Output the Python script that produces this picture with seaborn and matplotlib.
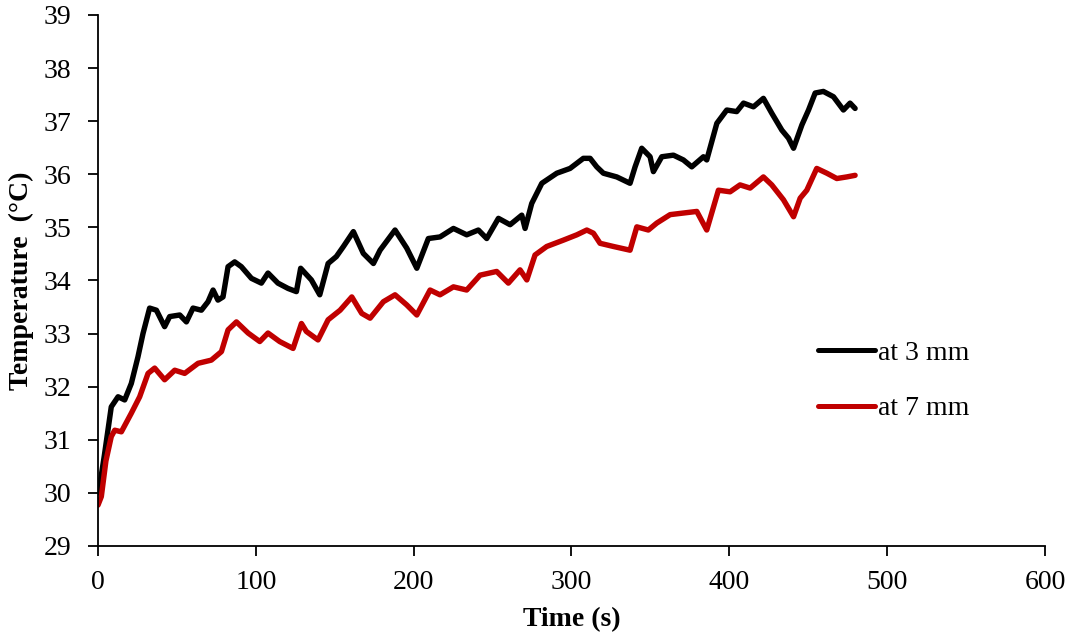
import matplotlib
matplotlib.use("Agg")
import matplotlib.pyplot as plt
import seaborn as sns
import pandas as pd

# ---- data ----
time_3mm = [0, 1, 4, 8.4, 12.7, 16.9, 21.1, 25.3, 28.5, 32.7, 37, 42.2, 45.4, 51.8, 56, 60.2,
            65.5, 69.7, 72.9, 76, 79.2, 82.4, 86.6, 90.8, 97.2, 103.5, 107.7, 114, 120.4,
            125.7, 128.4, 135.2, 140.5, 145.8, 151, 155.5, 161.8, 168.1, 174.5, 178.7, 188.2,
            195.6, 202, 209.3, 216.7, 225.2, 233.6, 241, 246.3, 253.7, 261.1, 268.5, 270.6,
            274.8, 281.2, 290.7, 299.1, 307.5, 311.8, 316, 320.2, 328.7, 337.1, 340.3, 344.5,
            349.8, 351.9, 357.2, 364.6, 370.9, 376.2, 383.6, 385.7, 392.1, 398.4, 404.7, 409,
            415.3, 421.6, 426.9, 433.3, 437.5, 440.7, 446, 450.2, 454.4, 459.6, 466, 472.3,
            476.5, 479.7]
temp_3mm = [30.0, 30.12, 30.7, 31.62, 31.81, 31.75, 32.06, 32.56, 33.0, 33.48, 33.44, 33.13,
            33.32, 33.35, 33.22, 33.48, 33.44, 33.6, 33.82, 33.63, 33.69, 34.26, 34.35, 34.26,
            34.04, 33.95, 34.14, 33.95, 33.85, 33.79, 34.23, 34.01, 33.73, 34.32, 34.45, 34.64,
            34.92, 34.51, 34.32, 34.57, 34.95, 34.61, 34.23, 34.79, 34.82, 34.98, 34.86, 34.95,
            34.79, 35.17, 35.05, 35.23, 34.98, 35.45, 35.83, 36.02, 36.11, 36.3, 36.3, 36.14,
            36.02, 35.95, 35.83, 36.14, 36.49, 36.33, 36.05, 36.33, 36.36, 36.27, 36.14, 36.33,
            36.27, 36.96, 37.21, 37.18, 37.34, 37.27, 37.43, 37.15, 36.83, 36.68, 36.49, 36.93,
            37.21, 37.53, 37.56, 37.46, 37.21, 37.34, 37.24]

time_7mm = [0, 2.1, 5, 8.4, 10.6, 14.8, 21.1, 26.4, 31.7, 35.9, 42.2, 48.6, 54.9, 63.4, 71.8,
            78.2, 82.4, 87.7, 95.1, 102.5, 107.7, 115.1, 123.6, 128.9, 132, 139.4, 145.8,
            153.4, 160.8, 167.1, 172.4, 180.8, 188.2, 195.6, 202, 210.4, 216.7, 225.2, 233.6,
            242.1, 252.6, 260, 267.4, 271.7, 276.9, 284.3, 294.9, 303.4, 309.7, 313.9, 318.1,
            326.6, 337.1, 341.4, 348.7, 354, 362.5, 370.9, 379.4, 385.7, 393.1, 400.5, 406.8,
            413.2, 421.6, 426.9, 434.3, 440.7, 444.9, 449.1, 455.4, 461.8, 468.1, 474.4, 479.7]
temp_7mm = [29.77, 29.93, 30.6, 31.06, 31.18, 31.15, 31.5, 31.81, 32.25, 32.35, 32.13, 32.31,
            32.25, 32.44, 32.5, 32.66, 33.07, 33.22, 33.01, 32.85, 33.01, 32.85, 32.72, 33.19,
            33.04, 32.88, 33.26, 33.44, 33.69, 33.38, 33.29, 33.6, 33.73, 33.54, 33.35, 33.82,
            33.73, 33.88, 33.82, 34.1, 34.17, 33.95, 34.2, 34.01, 34.48, 34.64, 34.76, 34.86,
            34.95, 34.89, 34.7, 34.64, 34.57, 35.01, 34.95, 35.08, 35.24, 35.27, 35.3, 34.95,
            35.7, 35.67, 35.8, 35.74, 35.95, 35.8, 35.52, 35.2, 35.55, 35.7, 36.11, 36.02,
            35.92, 35.95, 35.98]

labels = ["at 3 mm", "at 7 mm"]
x_ticks = [0, 100, 200, 300, 400, 500, 600]
y_ticks = [29, 30, 31, 32, 33, 34, 35, 36, 37, 38, 39]

df3 = pd.DataFrame({"Time": time_3mm, "Temp": temp_3mm})
df7 = pd.DataFrame({"Time": time_7mm, "Temp": temp_7mm})

sns.set_style("ticks")
plt.rcParams["font.family"] = ["Liberation Serif", "DejaVu Serif"]
plt.rcParams["text.color"] = "black"
plt.rcParams["axes.labelcolor"] = "black"

fig = plt.figure(figsize=(10.7, 6.37), dpi=100)
ax = fig.add_axes([0.0916, 0.1429, 0.885, 0.8336])

sns.lineplot(data=df3, x="Time", y="Temp", ax=ax, color="black", lw=3.9,
             estimator=None, sort=False, label=labels[0])
sns.lineplot(data=df7, x="Time", y="Temp", ax=ax, color="#C00000", lw=3.9,
             estimator=None, sort=False, label=labels[1])

ax.set_xlim(0, 600)
ax.set_ylim(29, 39)
ax.set_xticks(x_ticks)
ax.set_yticks(y_ticks)
ax.tick_params(axis="both", direction="out", length=7, width=1.3, labelsize=20,
               colors="black")
ax.tick_params(axis="y", pad=12)
ax.tick_params(axis="x", pad=10)
for s in ["top", "right"]:
    ax.spines[s].set_visible(False)
for s in ["left", "bottom"]:
    ax.spines[s].set_linewidth(1.3)
    ax.spines[s].set_color("black")

ax.set_xlabel("Time (s)", fontsize=20, fontweight="bold", labelpad=9, color="black")
ax.set_ylabel("Temperature  (°C)", fontsize=20, fontweight="bold", labelpad=7,
              color="black")

leg = ax.legend(loc="center left", bbox_to_anchor=(0.7603, 0.311), frameon=False,
                fontsize=20, handlelength=2.05, handletextpad=0.1, labelspacing=1.08,
                borderaxespad=0, borderpad=0)
for h in leg.get_lines():
    h.set_linewidth(3.6)
for t in leg.get_texts():
    t.set_color("black")

fig.savefig("out.png", dpi=100)
